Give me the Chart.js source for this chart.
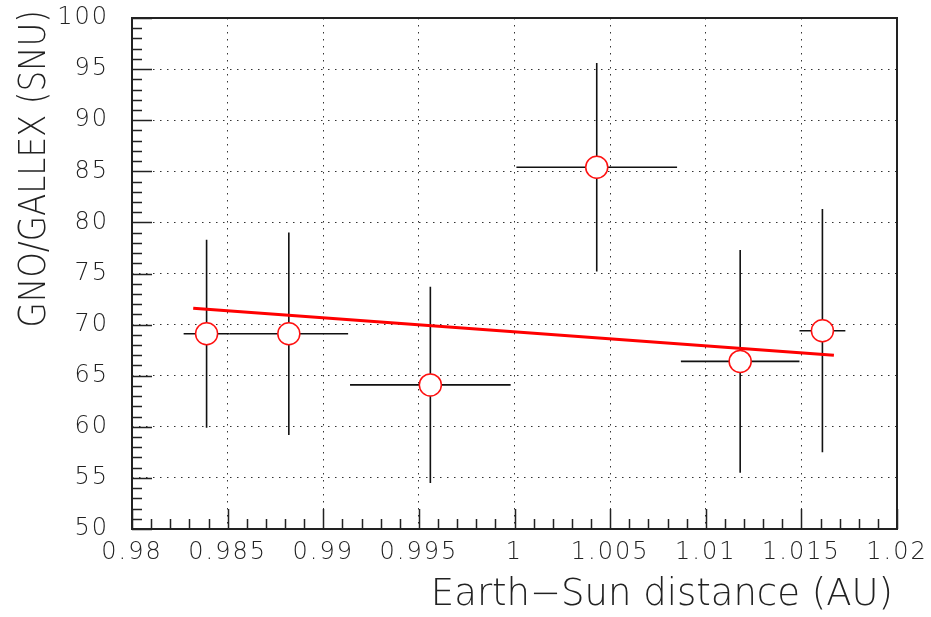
<!DOCTYPE html>
<html>
<head>
<meta charset="utf-8">
<script src="https://cdn.jsdelivr.net/npm/chart.js@4.4.1/dist/chart.umd.min.js"></script>
<style>
  html, body { margin: 0; padding: 0; background: #fff; }
  #chart { display: block; }
</style>
</head>
<body>
<canvas id="chart" width="931" height="617"></canvas>
<script>
// measured points (Earth-Sun distance bins)
const distance = [0.9839, 0.9882, 0.9956, 1.0043, 1.0118, 1.0161];
const distanceErr = [0.0012, 0.0031, 0.0042, 0.0042, 0.0031, 0.0012];
const rate = [69.1, 69.1, 64.1, 85.4, 66.4, 69.4];
const rateErr = [9.2, 9.9, 9.6, 10.2, 10.9, 11.9];

// fitted line end points
const fitX = [0.9832, 1.0167];
const fitY = [71.6, 67.0];

// axes
const xTickValues = [0.98, 0.985, 0.99, 0.995, 1, 1.005, 1.01, 1.015, 1.02];
const xTickLabels = ['0.98', '0.985', '0.99', '0.995', '1', '1.005', '1.01', '1.015', '1.02'];
const yTickValues = [50, 55, 60, 65, 70, 75, 80, 85, 90, 95, 100];
const yTickLabels = ['50', '55', '60', '65', '70', '75', '80', '85', '90', '95', '100'];
const xTitle = 'Earth\u2212Sun distance (AU)';
const yTitle = 'GNO/GALLEX (SNU)';

const FONT = "'DejaVu Sans', 'Liberation Sans', sans-serif";
const WEIGHT = '200';
const INK = '#222';

// error bars under the markers
const errorBars = {
  id: 'errorBars',
  beforeDatasetsDraw(chart) {
    const {ctx, chartArea, scales: {x, y}} = chart;
    ctx.save();
    ctx.beginPath();
    ctx.rect(chartArea.left, chartArea.top, chartArea.width, chartArea.height);
    ctx.clip();
    ctx.strokeStyle = '#111';
    ctx.lineWidth = 1.6;
    distance.forEach((d, i) => {
      const px = x.getPixelForValue(d);
      const py = y.getPixelForValue(rate[i]);
      ctx.beginPath();
      ctx.moveTo(px, y.getPixelForValue(rate[i] - rateErr[i]));
      ctx.lineTo(px, y.getPixelForValue(rate[i] + rateErr[i]));
      ctx.moveTo(x.getPixelForValue(d - distanceErr[i]), py);
      ctx.lineTo(x.getPixelForValue(d + distanceErr[i]), py);
      ctx.stroke();
    });
    ctx.restore();
  }
};

// frame, inward ticks (major + minor) and axis titles, ROOT style
const frame = {
  id: 'frame',
  beforeDraw(chart) {
    chart.ctx.letterSpacing = '2px';
  },
  afterDraw(chart) {
    const {ctx, chartArea: a, scales: {x, y}} = chart;
    ctx.save();
    ctx.letterSpacing = '0px';
    ctx.strokeStyle = INK;
    ctx.lineWidth = 1.5;
    ctx.beginPath();
    for (let k = 0; k <= 40; k++) {
      const v = 0.98 + k * 0.001;
      const px = Math.round(x.getPixelForValue(v)) + 0.5;
      const len = k % 5 === 0 ? 20 : 10;
      ctx.moveTo(px, a.bottom);
      ctx.lineTo(px, a.bottom - len);
    }
    for (let k = 0; k <= 50; k++) {
      const v = 50 + k;
      const py = Math.round(y.getPixelForValue(v)) + 0.5;
      const len = k % 5 === 0 ? 20 : 10;
      ctx.moveTo(a.left, py);
      ctx.lineTo(a.left + len, py);
    }
    ctx.stroke();
    ctx.lineWidth = 2;
    ctx.strokeRect(a.left, a.top, a.right - a.left, a.bottom - a.top);

    ctx.fillStyle = INK;
    ctx.font = WEIGHT + ' 37px ' + FONT;
    ctx.textAlign = 'right';
    ctx.textBaseline = 'alphabetic';
    ctx.fillText(xTitle, a.right - 4, 605);

    ctx.translate(45, 10);
    ctx.rotate(-Math.PI / 2);
    ctx.scale(0.88, 1);
    ctx.fillText(yTitle, 0, 0);
    ctx.restore();
  }
};

const gridColor = c => (c.index === 0 || c.index === c.chart.scales[c.scale.id].ticks.length - 1) ? 'rgba(0,0,0,0)' : '#333';

new Chart(document.getElementById('chart'), {
  type: 'scatter',
  data: {
    datasets: [
      {
        type: 'line',
        data: fitX.map((v, i) => ({x: v, y: fitY[i]})),
        borderColor: '#ff0000',
        borderWidth: 3.2,
        pointRadius: 0,
        order: 0
      },
      {
        data: distance.map((v, i) => ({x: v, y: rate[i]})),
        pointStyle: 'circle',
        pointRadius: 11,
        borderColor: '#ff1010',
        backgroundColor: '#ffffff',
        borderWidth: 1.5,
        order: 1
      }
    ]
  },
  options: {
    responsive: false,
    devicePixelRatio: 1,
    animation: false,
    layout: { padding: { top: 18, right: 34, left: 0, bottom: 0 } },
    plugins: { legend: { display: false }, tooltip: { enabled: false } },
    scales: {
      x: {
        type: 'linear',
        position: 'bottom',
        min: 0.98,
        max: 1.02,
        afterBuildTicks: s => { s.ticks = xTickValues.map(v => ({value: v})); },
        afterFit: s => { s.height = 88; s.paddingLeft = 0; s.paddingRight = 0; },
        grid: { color: gridColor, drawTicks: false, lineWidth: 1 },
        border: { display: false, dash: [1.5, 5.5] },
        ticks: {
          callback: (v, i) => xTickLabels[i],
          color: INK,
          padding: 9,
          maxRotation: 0,
          autoSkip: false,
          font: { family: FONT, size: 24, weight: WEIGHT }
        }
      },
      y: {
        type: 'linear',
        min: 50,
        max: 100,
        afterBuildTicks: s => { s.ticks = yTickValues.map(v => ({value: v})); },
        afterFit: s => { s.width = 132; s.paddingTop = 0; s.paddingBottom = 0; },
        grid: { color: gridColor, drawTicks: false, lineWidth: 1 },
        border: { display: false, dash: [1.5, 5.5] },
        ticks: {
          callback: (v, i) => yTickLabels[i],
          color: INK,
          padding: 23,
          autoSkip: false,
          font: { family: FONT, size: 24, weight: WEIGHT }
        }
      }
    }
  },
  plugins: [errorBars, frame]
});
</script>
</body>
</html>
